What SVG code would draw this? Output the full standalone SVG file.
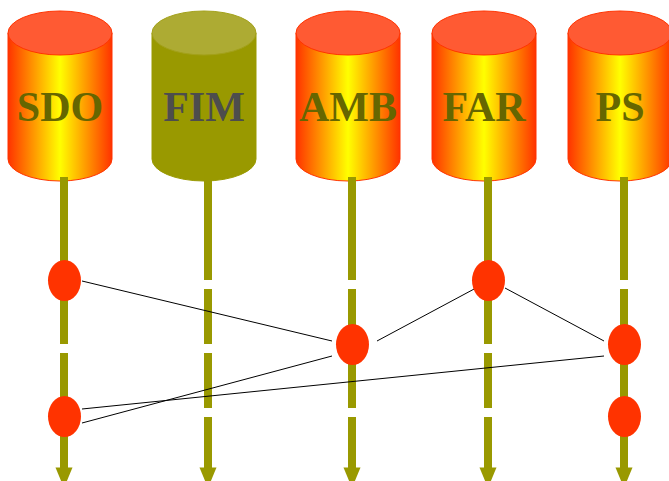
<svg xmlns="http://www.w3.org/2000/svg" width="669" height="481" viewBox="0 0 669 481">
<defs>
<linearGradient id="fire" x1="0" y1="0" x2="1" y2="0">
<stop offset="0" stop-color="#FF3300"/>
<stop offset="0.5" stop-color="#FFFF00"/>
<stop offset="1" stop-color="#FF3300"/>
</linearGradient>
<polygon id="head" points="-8.5,467.5 8.5,467.5 0,488"/>
</defs>
<style>
.body{fill:url(#fire);stroke:#FF3300;stroke-width:1}
.top{fill:#FF5A33;stroke:#FF3300;stroke-width:1}
.fbody{fill:#999900;stroke:#999900;stroke-width:1}
.ftop{fill:#ADAB33;stroke:#A3A11A;stroke-width:1}
.lbl{font-family:"Liberation Serif","Times New Roman",serif;font-weight:bold;font-size:42px;text-anchor:middle;fill:#666600}
.flbl{fill:#4D4D4D}
.life{fill:none;stroke:#999900;stroke-width:8}
.head{fill:#999900}
.dot{fill:#FF3300}
.conn{stroke:#000000;stroke-width:1;fill:none}
</style>
<rect width="669" height="481" fill="#FFFFFF"/>

<g id="SDO">
<path class="body" d="M8 33 V159 A52 22 0 0 0 112 159 V33 Z"/>
<ellipse class="top" cx="60" cy="33" rx="52" ry="22"/>
<text class="lbl" x="60" y="121">SDO</text>
</g>
<g id="FIM">
<path class="fbody" d="M152 33 V159 A52 22 0 0 0 256 159 V33 Z"/>
<ellipse class="ftop" cx="204" cy="33" rx="52" ry="22"/>
<text class="lbl flbl" x="204" y="121">FIM</text>
</g>
<g id="AMB">
<path class="body" d="M296 33 V159 A52 22 0 0 0 400 159 V33 Z"/>
<ellipse class="top" cx="348" cy="33" rx="52" ry="22"/>
<text class="lbl" x="348" y="121">AMB</text>
</g>
<g id="FAR">
<path class="body" d="M432 33 V159 A52 22 0 0 0 536 159 V33 Z"/>
<ellipse class="top" cx="484" cy="33" rx="52" ry="22"/>
<text class="lbl" x="484" y="121">FAR</text>
</g>
<g id="PS">
<path class="body" d="M568 33 V159 A52 22 0 0 0 672 159 V33 Z"/>
<ellipse class="top" cx="620" cy="33" rx="52" ry="22"/>
<text class="lbl" x="620" y="121">PS</text>
</g>

<g id="lifelines">
<path class="life" d="M64 177 V280 M64 289 V344 M64 353 V408 M64 417 V468"/>
<use href="#head" class="head" x="64"/>
<path class="life" d="M208 177 V280 M208 289 V344 M208 353 V408 M208 417 V468"/>
<use href="#head" class="head" x="208"/>
<path class="life" d="M352 177 V280 M352 289 V344 M352 353 V408 M352 417 V468"/>
<use href="#head" class="head" x="352"/>
<path class="life" d="M488 177 V280 M488 289 V344 M488 353 V408 M488 417 V468"/>
<use href="#head" class="head" x="488"/>
<path class="life" d="M624 177 V280 M624 289 V344 M624 353 V408 M624 417 V468"/>
<use href="#head" class="head" x="624"/>
</g>

<g id="connectors">
<line class="conn" x1="82" y1="281" x2="332" y2="341"/>
<line class="conn" x1="82" y1="423" x2="332" y2="356"/>
<line class="conn" x1="82" y1="409" x2="604" y2="356"/>
<line class="conn" x1="377" y1="341" x2="476" y2="288"/>
<line class="conn" x1="505" y1="288" x2="604" y2="341"/>
</g>

<g id="events">
<ellipse id="e1" class="dot" cx="64.5" cy="280.5" rx="16.5" ry="20.5"/>
<ellipse id="e2" class="dot" cx="64.5" cy="416.5" rx="16.5" ry="20.5"/>
<ellipse id="e3" class="dot" cx="352.5" cy="344.5" rx="16.5" ry="20.5"/>
<ellipse id="e4" class="dot" cx="488.5" cy="280.5" rx="16.5" ry="20.5"/>
<ellipse id="e5" class="dot" cx="624.5" cy="344.5" rx="16.5" ry="20.5"/>
<ellipse id="e6" class="dot" cx="624.5" cy="416.5" rx="16.5" ry="20.5"/>
</g>
</svg>
